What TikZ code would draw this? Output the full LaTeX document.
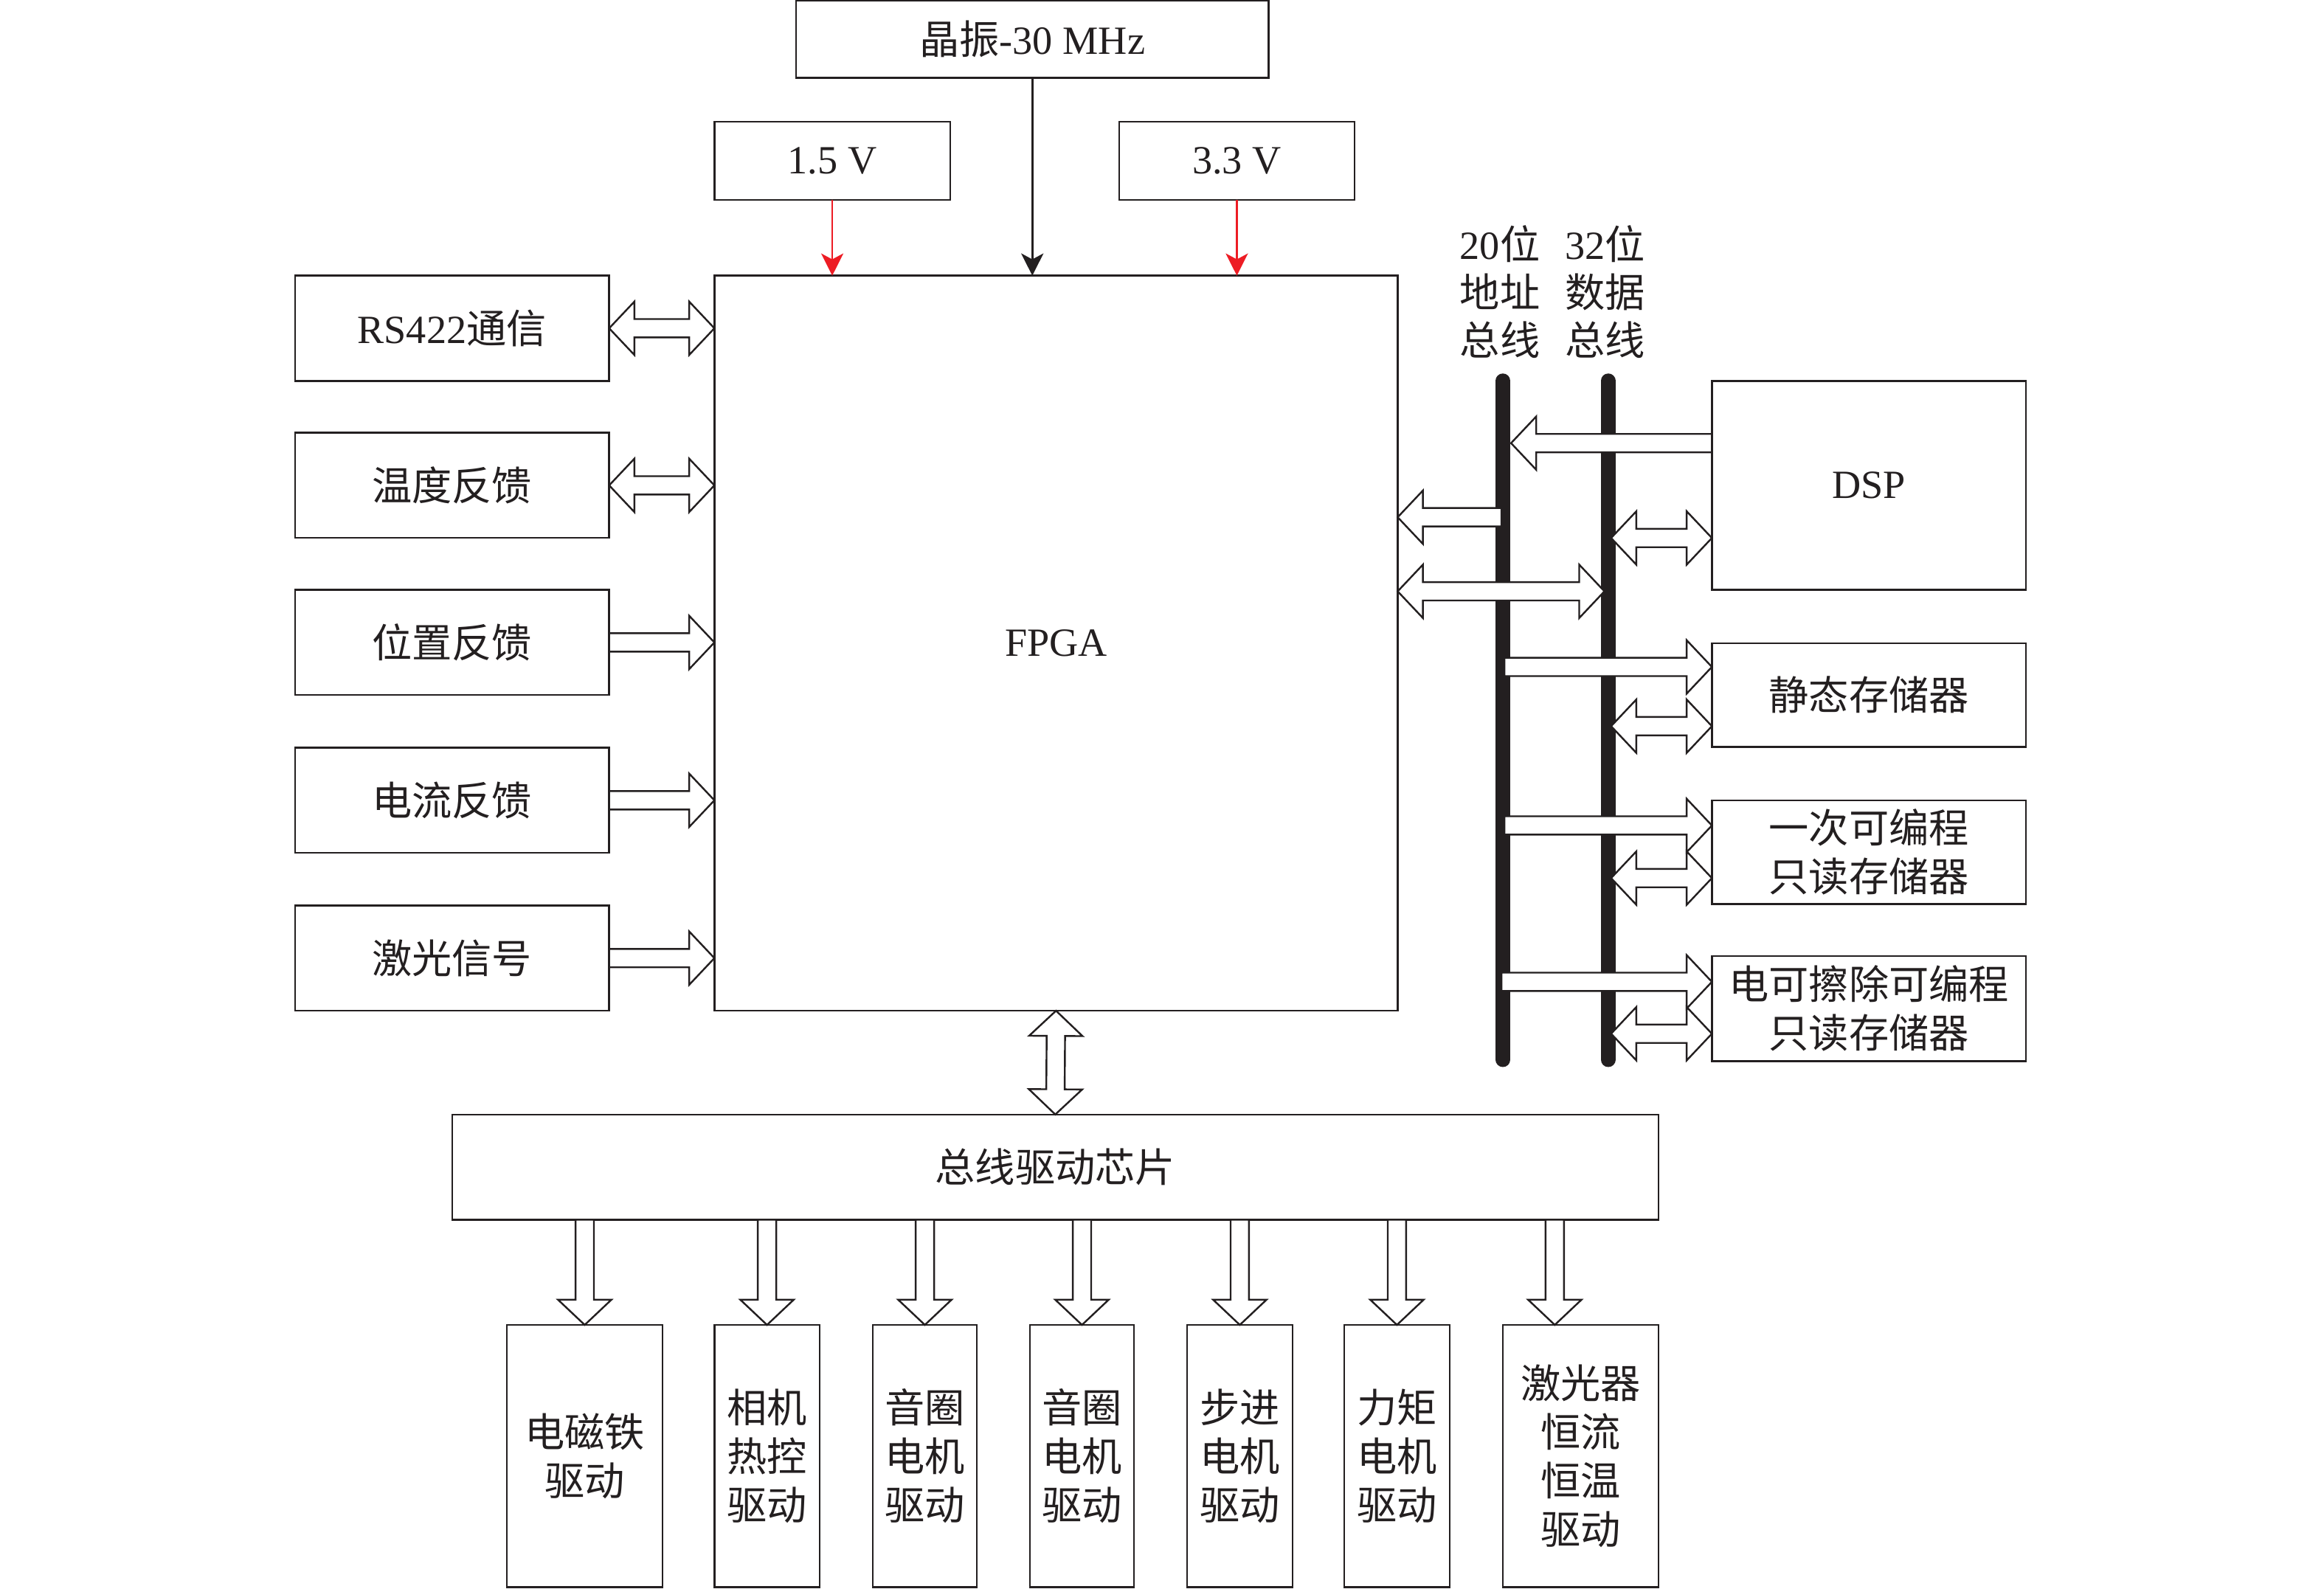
\documentclass[tikz,border=0pt]{standalone}
\usepackage{fontspec}
\setmainfont{Liberation Serif}
\newfontfamily\cjk{Noto Sans CJK SC}
\usetikzlibrary{calc,arrows.meta}
\definecolor{ink}{RGB}{35,31,32}
\definecolor{pwr}{RGB}{237,28,36}
\newcommand\hollowS[2]{%
  \coordinate (hA) at (#1);
  \coordinate (hB) at (#2);
  \coordinate (hH) at ($(hB)!17pt!(hA)$);
  \draw[blockarrow] ($(hA)!6.2pt!90:(hB)$) -- ($(hH)!6.2pt!90:(hB)$) -- ($(hH)!18pt!90:(hB)$) -- (hB)
     -- ($(hH)!18pt!-90:(hB)$) -- ($(hH)!6.2pt!-90:(hB)$) -- ($(hA)!6.2pt!-90:(hB)$) -- cycle;
}
\newcommand\hollowD[2]{%
  \coordinate (hA) at (#1);
  \coordinate (hB) at (#2);
  \coordinate (hH) at ($(hB)!17pt!(hA)$);
  \coordinate (hG) at ($(hA)!17pt!(hB)$);
  \draw[blockarrow] (hA) -- ($(hG)!18pt!90:(hB)$) -- ($(hG)!6.2pt!90:(hB)$) -- ($(hH)!6.2pt!90:(hB)$)
     -- ($(hH)!18pt!90:(hB)$) -- (hB) -- ($(hH)!18pt!-90:(hB)$) -- ($(hH)!6.2pt!-90:(hB)$)
     -- ($(hG)!6.2pt!-90:(hB)$) -- ($(hG)!18pt!-90:(hB)$) -- cycle;
}
\tikzset{
  box/.style={draw=ink, line width=1.2pt, inner sep=0pt, outer sep=0pt, align=center,
              text=ink, font=\fontsize{27}{33}\selectfont},
  cbox/.style={box, font=\fontsize{27}{33}\selectfont\cjk},
  lbl/.style={inner sep=0pt, align=center, text=ink, font=\fontsize{27}{32.5}\selectfont},
  blockarrow/.style={draw=ink, fill=white, line width=1.2pt, line join=miter},
  bus/.style={draw=ink, line width=10pt, line cap=round},
  thin/.style={draw=ink, line width=1.3pt, -{Stealth[length=15pt,width=15pt,inset=4pt]}},
  pline/.style={draw=pwr, line width=1.1pt, -{Stealth[length=15pt,width=15pt,inset=4pt]}},
}
\begin{document}
\begin{tikzpicture}[x=1pt,y=-1pt]
\useasboundingbox (0,0) rectangle (1568,1072);
\fill[white] (0,0) rectangle (1568,1072);

% top
\node[box, minimum width=319pt, minimum height=52pt] (xtal) at (696.5,26.5) {{\cjk 晶振}-30 MHz};
\node[box, minimum width=159pt, minimum height=53pt] (v15) at (561.5,108.5) {1.5 V};
\node[box, minimum width=159pt, minimum height=53pt] (v33) at (834.5,108.5) {3.3 V};
\node[box, minimum width=461pt, minimum height=496pt] (fpga) at (712.5,434) {FPGA};

\draw[thin] (xtal.south) -- (xtal.south |- fpga.north);
\draw[pline] (v15.south) -- (v15.south |- fpga.north);
\draw[pline] (v33.south) -- (v33.south |- fpga.north);

% left
\node[box, minimum width=212pt, minimum height=71pt] (rs) at (305,221.5) {RS422{\cjk 通信}};
\node[cbox, minimum width=212pt, minimum height=71pt] (tmp) at (305,327.5) {温度反馈};
\node[cbox, minimum width=212pt, minimum height=71pt] (pos) at (305,433.5) {位置反馈};
\node[cbox, minimum width=212pt, minimum height=71pt] (cur) at (305,540) {电流反馈};
\node[cbox, minimum width=212pt, minimum height=71pt] (las) at (305,646.5) {激光信号};

\hollowD{rs.east}{fpga.west |- rs.east}
\hollowD{tmp.east}{fpga.west |- tmp.east}
\hollowS{pos.east}{fpga.west |- pos.east}
\hollowS{cur.east}{fpga.west |- cur.east}
\hollowS{las.east}{fpga.west |- las.east}

% right: buses
\node[lbl] (alab) at (1012,197) {20{\cjk 位}\\{\cjk 地址}\\{\cjk 总线}};
\node[lbl] (dlab) at (1083,197) {32{\cjk 位}\\{\cjk 数据}\\{\cjk 总线}};
\coordinate (abT) at (1014,257); \coordinate (abB) at (1014,715);
\coordinate (dbT) at (1085,257); \coordinate (dbB) at (1085,715);
\draw[bus] (abT) -- (abB);
\draw[bus] (dbT) -- (dbB);

\node[box, minimum width=212pt, minimum height=141pt] (dsp) at (1261,327.5) {DSP};
\node[cbox, minimum width=212pt, minimum height=70pt] (sram) at (1261,469) {静态存储器};
\node[cbox, minimum width=212pt, minimum height=70pt] (otp) at (1261,575) {一次可编程\\只读存储器};
\node[cbox, minimum width=212pt, minimum height=71pt] (eep) at (1261,680.5) {电可擦除可编程\\只读存储器};

\coordinate (r1) at (1019.5,299);
\coordinate (r2) at (1013,349);
\coordinate (r3) at (1082.5,399);
\coordinate (r4) at (1087,363);
\coordinate (r5) at (1015,450);
\coordinate (r6) at (1087,490);
\coordinate (r7) at (1015,557);
\coordinate (r8) at (1087,592.5);
\coordinate (r9) at (1013,662.5);
\coordinate (r10) at (1087,697.5);

\hollowS{dsp.west |- r1}{r1}
\hollowS{r2}{fpga.east |- r2}
\hollowD{fpga.east |- r3}{r3}
\hollowD{r4}{dsp.west |- r4}
\hollowS{r5}{sram.west |- r5}
\hollowD{r6}{sram.west |- r6}
\hollowS{r7}{otp.west |- r7}
\hollowD{r8}{otp.west |- r8}
\hollowS{r9}{eep.west |- r9}
\hollowD{r10}{eep.west |- r10}

% bottom
\node[cbox, minimum width=814pt, minimum height=71pt] (drv) at (712,787.5) {总线驱动芯片};
\hollowD{fpga.south}{drv.north}

\node[cbox, minimum width=105pt, minimum height=177pt] (b1) at (394.5,982.5) {电磁铁\\驱动};
\node[cbox, minimum width=71pt, minimum height=177pt] (b2) at (517.5,982.5) {相机\\热控\\驱动};
\node[cbox, minimum width=70pt, minimum height=177pt] (b3) at (624,982.5) {音圈\\电机\\驱动};
\node[cbox, minimum width=70pt, minimum height=177pt] (b4) at (730,982.5) {音圈\\电机\\驱动};
\node[cbox, minimum width=71pt, minimum height=177pt] (b5) at (836.5,982.5) {步进\\电机\\驱动};
\node[cbox, minimum width=71pt, minimum height=177pt] (b6) at (942.5,982.5) {力矩\\电机\\驱动};
\node[cbox, minimum width=105pt, minimum height=177pt] (b7) at (1066.5,982.5) {激光器\\恒流\\恒温\\驱动};

\hollowS{drv.south -| b1.north}{b1.north}
\hollowS{drv.south -| b2.north}{b2.north}
\hollowS{drv.south -| b3.north}{b3.north}
\hollowS{drv.south -| b4.north}{b4.north}
\hollowS{drv.south -| b5.north}{b5.north}
\hollowS{drv.south -| b6.north}{b6.north}
\coordinate (b7a) at (1049,823);
\hollowS{b7a}{b7a |- b7.north}
\end{tikzpicture}
\end{document}
